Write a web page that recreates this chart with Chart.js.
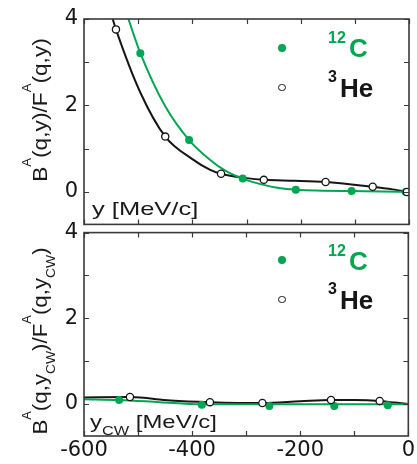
<!DOCTYPE html>
<html>
<head>
<meta charset="utf-8">
<script src="https://cdn.jsdelivr.net/npm/chart.js@4.4.1/dist/chart.umd.min.js"></script>
<style>
html, body { margin: 0; padding: 0; background: #fff; }
#wrap { position: relative; width: 417px; height: 464px; overflow: hidden; font-family: "Liberation Sans", Arial, sans-serif; color: #1a1a1a; }
.panel { position: absolute; left: 0; width: 417px; }
#top { top: 0; height: 243px; }
#bot { top: 214px; height: 250px; }
.txt { position: absolute; white-space: nowrap; }
.dot { position: absolute; border-radius: 50%; box-sizing: border-box; }
</style>
</head>
<body>
<div id="wrap">
  <div class="panel" id="top"><canvas id="topChart"></canvas></div>
  <div class="panel" id="bot"><canvas id="botChart"></canvas></div>
</div>
<script>
// tick labels
const xLabels = [-600, -400, -200, 0];
const yLabels = [0, 2, 4];
const xTickValues = [-600, -500, -400, -300, -200, -100, 0];
const yTickValues = [0, 1, 2, 3, 4];

// upper panel: scaling in y
const carbonX = [-496, -406, -307, -209, -106, -6];
const carbonY = [3.21, 1.2, 0.31, 0.05, 0.02, 0.0];
const heliumX = [-541, -450, -347, -268, -154, -67, -4];
const heliumY = [3.76, 1.28, 0.42, 0.28, 0.23, 0.12, 0.0];
// fitted curves
const carbonFitX = [-518, -496, -450, -406, -367, -340, -307, -270, -240, -209, -160, -106, -50, 0];
const carbonFitY = [4.0, 3.21, 1.98, 1.2, 0.74, 0.5, 0.31, 0.17, 0.09, 0.05, 0.03, 0.02, 0.01, 0.0];
const heliumFitX = [-547, -541, -496, -450, -400, -367, -347, -300, -268, -210, -154, -110, -67, -30, 0];
const heliumFitY = [4.0, 3.76, 2.3, 1.28, 0.76, 0.51, 0.42, 0.32, 0.28, 0.26, 0.23, 0.18, 0.12, 0.06, 0.0];

// lower panel: scaling in y_CW
const carbonCwX = [-535, -382, -257, -137, -38];
const carbonCwY = [0.09, -0.02, -0.05, -0.05, -0.03];
const heliumCwX = [-515, -367, -270, -143, -53];
const heliumCwY = [0.16, 0.04, 0.02, 0.09, 0.07];
const carbonCwFitX = [-600, -535, -460, -382, -300, -200, -100, 0];
const carbonCwFitY = [0.11, 0.09, 0.04, -0.01, -0.01, -0.01, -0.01, -0.01];
const heliumCwFitX = [-600, -515, -440, -367, -270, -200, -143, -100, -53, -25, 0];
const heliumCwFitY = [0.15, 0.16, 0.08, 0.04, 0.02, 0.06, 0.09, 0.09, 0.07, 0.03, 0.0];

const GREEN = '#00a651';
const INK = '#161616';

const pts = (xs, ys) => xs.map((x, i) => ({x: x, y: ys[i]}));

// box + inward tick marks on all four sides
const frame = {
  id: 'frame',
  afterDatasetsDraw(chart) {
    const {ctx, chartArea: a, scales: {x, y}} = chart;
    ctx.save();
    ctx.strokeStyle = '#3a3a3a';
    ctx.lineWidth = 1.2;
    ctx.beginPath();
    x.ticks.forEach(t => {
      const px = Math.round(x.getPixelForValue(t.value)) + 0.5;
      ctx.moveTo(px, a.bottom); ctx.lineTo(px, a.bottom - 5);
      ctx.moveTo(px, a.top); ctx.lineTo(px, a.top + 5);
    });
    y.ticks.forEach(t => {
      const py = Math.round(y.getPixelForValue(t.value)) + 0.5;
      ctx.moveTo(a.left, py); ctx.lineTo(a.left + 5, py);
      ctx.moveTo(a.right, py); ctx.lineTo(a.right - 5, py);
    });
    ctx.stroke();
    ctx.lineWidth = 1.6;
    ctx.strokeRect(a.left, a.top, a.width, a.height);
    ctx.restore();
  }
};

function makeChart(id, cX, cY, hX, hY, cfX, cfY, hfX, hfY, showX, padTop, padBottom) {
  return new Chart(document.getElementById(id), {
    type: 'scatter',
    data: {
      datasets: [
        {
          data: pts(hX, hY), showLine: false,
          pointRadius: 3.6, pointBackgroundColor: '#fff',
          pointBorderColor: INK, pointBorderWidth: 1.3
        },
        {
          data: pts(cX, cY), showLine: false,
          pointRadius: 4, pointBackgroundColor: GREEN,
          pointBorderColor: GREEN, pointBorderWidth: 0
        },
        {
          data: pts(cfX, cfY), showLine: true, pointRadius: 0,
          borderColor: GREEN, borderWidth: 2, cubicInterpolationMode: 'monotone'
        },
        {
          data: pts(hfX, hfY), showLine: true, pointRadius: 0,
          borderColor: INK, borderWidth: 2, cubicInterpolationMode: 'monotone'
        }
      ]
    },
    options: {
      responsive: true,
      maintainAspectRatio: false,
      animation: false,
      events: [],
      layout: { padding: { top: padTop, right: 8, bottom: padBottom, left: 0 } },
      plugins: { legend: { display: false }, tooltip: { enabled: false } },
      scales: {
        x: {
          type: 'linear', min: -600, max: 0, display: showX,
          grid: { display: false, drawTicks: false },
          border: { display: false },
          afterFit: s => { s.height = showX ? 28 : 0; },
          afterBuildTicks: s => {
            s.ticks = xTickValues.map(v => ({value: v}));
            s.min = -600; s.max = 0;
          },
          ticks: {
            autoSkip: false, maxRotation: 0, padding: 2,
            color: INK, font: { family: 'DejaVu Sans', size: 21 },
            callback: v => xLabels.includes(v) ? String(v) : ''
          }
        },
        y: {
          type: 'linear', min: -0.75, max: 4,
          grid: { display: false, drawTicks: false },
          border: { display: false },
          afterFit: s => { s.width = 84; },
          afterBuildTicks: s => {
            s.ticks = yTickValues.map(v => ({value: v}));
            s.min = -0.75; s.max = 4;
          },
          ticks: {
            autoSkip: false, padding: 6,
            color: INK, font: { family: 'DejaVu Sans', size: 21 },
            callback: v => yLabels.includes(v) ? String(v) : ''
          }
        }
      }
    },
    plugins: [frame]
  });
}

makeChart('topChart', carbonX, carbonY, heliumX, heliumY,
  carbonFitX, carbonFitY, heliumFitX, heliumFitY, false, 19, 3);
makeChart('botChart', carbonCwX, carbonCwY, heliumCwX, heliumCwY,
  carbonCwFitX, carbonCwFitY, heliumCwFitX, heliumCwFitY, true, 16, 0);

// text overlays
const wrap = document.getElementById('wrap');
function put(html, x, base, size, extra) {
  const d = document.createElement('div');
  d.className = 'txt';
  d.innerHTML = html;
  d.style.left = x + 'px';
  d.style.top = (base - 0.8465 * size) + 'px';
  d.style.fontSize = size + 'px';
  d.style.lineHeight = size + 'px';
  Object.assign(d.style, extra || {});
  wrap.appendChild(d);
  return d;
}
// stretch a text box horizontally to the width it has in the picture
function stretchTo(d, width) {
  const s = width / d.offsetWidth;
  d.style.transformOrigin = 'left center';
  d.style.transform = 'scaleX(' + s.toFixed(3) + ')';
}
function marker(cx, cy, r, fill, stroke) {
  const d = document.createElement('div');
  d.className = 'dot';
  d.style.left = (cx - r) + 'px';
  d.style.top = (cy - r) + 'px';
  d.style.width = d.style.height = (2 * r) + 'px';
  d.style.background = fill;
  if (stroke) d.style.border = '1.3px solid ' + stroke;
  wrap.appendChild(d);
}
function rotated(html, cx, cy, length) {
  const d = document.createElement('div');
  d.className = 'txt';
  d.innerHTML = html;
  d.style.left = cx + 'px';
  d.style.top = cy + 'px';
  d.style.fontSize = '21px';
  d.style.lineHeight = '24px';
  wrap.appendChild(d);
  const s = length / d.offsetWidth;
  d.style.transform = 'translate(-50%,-50%) rotate(-90deg) scaleX(' + s.toFixed(3) + ')';
}

const sup = t => '<span style="font-size:12px;position:relative;top:-16px">' + t + '</span>';
const sub = t => '<span style="font-size:13px;position:relative;top:8px">' + t + '</span>';

rotated('B' + sup('A') + '(q,y)/F' + sup('A') + '(q,y)', 41, 110, 144);
rotated('B' + sup('A') + '(q,y' + sub('CW') + ')/F' + sup('A') + '(q,y' + sub('CW') + ')', 41, 341, 187);

stretchTo(put('y [MeV/c]', 92, 215, 19), 106);
stretchTo(put('y<span style="font-size:13px;position:relative;top:7px">CW</span> [MeV/c]', 90, 428, 19), 127);

// legends
[[47.7, 87.7, 43.3, 57.3, 83, 97.3], [260, 299.3, 256.7, 270, 295, 309.3]].forEach(l => {
  marker(282, l[0], 4, GREEN);
  marker(282, l[1], 3.8, '#fff', INK);
  put('12', 328, l[2], 16, { fontWeight: 'bold', color: GREEN });
  put('C', 349, l[3], 26, { fontWeight: 'bold', color: GREEN });
  put('3', 328, l[4], 16, { fontWeight: 'bold', color: INK });
  put('He', 340, l[5], 26, { fontWeight: 'bold', color: INK });
});
</script>
</body>
</html>
